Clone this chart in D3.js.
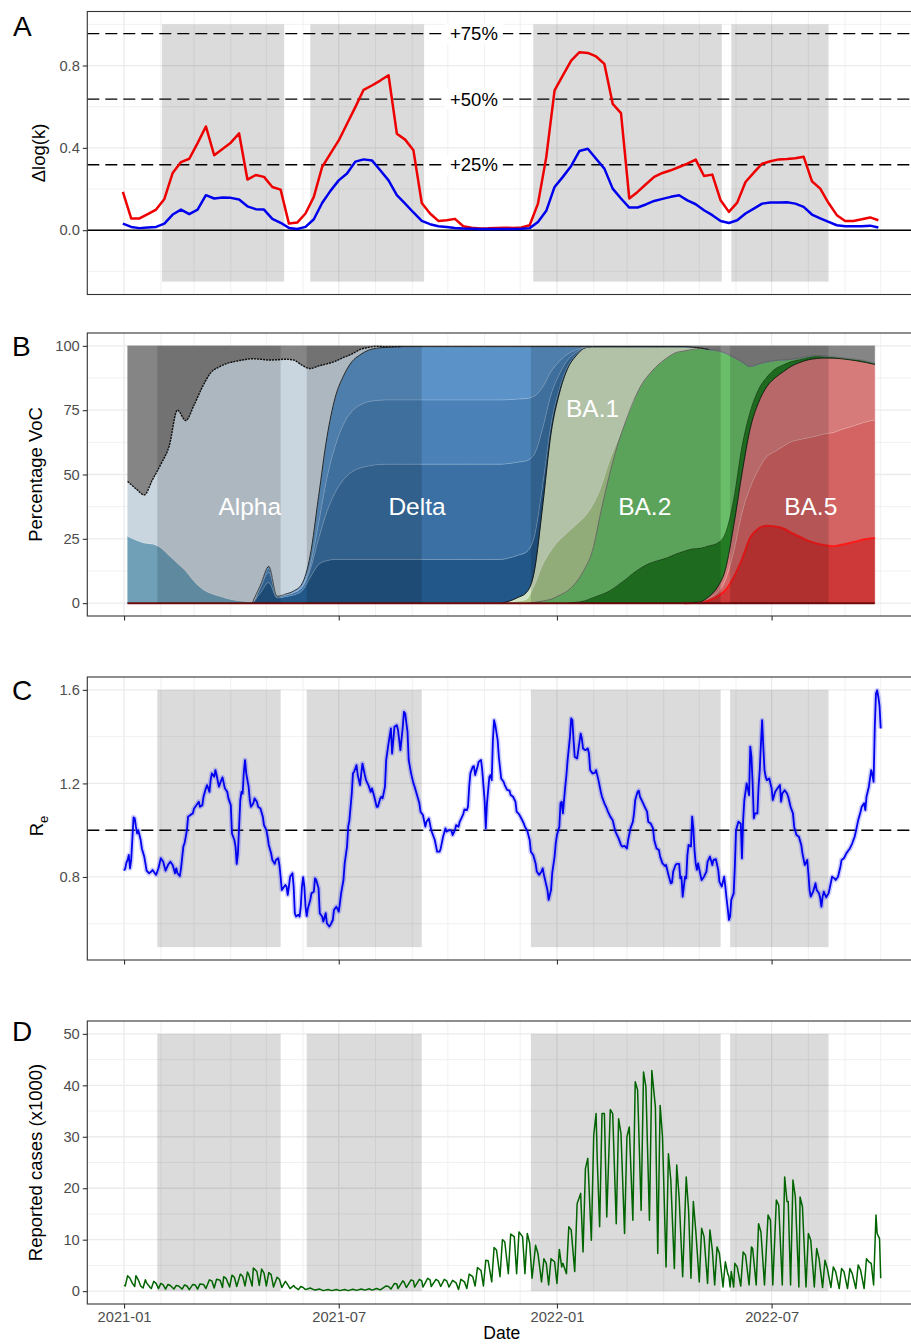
<!DOCTYPE html>
<html><head><meta charset="utf-8">
<script src="https://cdn.jsdelivr.net/npm/d3@7/dist/d3.min.js"></script>
<style>
html,body{margin:0;padding:0;background:#fff;}
svg{display:block;}
</style></head><body>
<svg id="chart" width="911" height="1344"></svg>
<script>
// ================= DATA =================
const monthTicks = ["2021-01-01","2021-07-01","2022-01-01","2022-07-01"];
const periodsA = [["2021-02-02","2021-05-16"],["2021-06-07","2021-09-11"],["2021-12-12","2022-05-20"],["2022-05-28","2022-08-18"]];
const periods  = [["2021-01-29","2021-05-13"],["2021-06-04","2021-09-09"],["2021-12-10","2022-05-19"],["2022-05-27","2022-08-18"]];

// Panel A: weekly Δlog(k)
const dlogStart = "2020-12-31";
const dlogRed = [0.186,0.057,0.057,0.078,0.100,0.152,0.278,0.331,0.347,0.423,
0.504,0.364,0.394,0.425,0.470,0.246,0.268,0.259,0.210,0.197,
0.032,0.037,0.081,0.162,0.307,0.372,0.436,0.517,0.598,0.682,
0.703,0.727,0.753,0.469,0.440,0.388,0.132,0.081,0.045,0.048,
0.055,0.019,0.012,0.008,0.009,0.011,0.012,0.011,0.013,0.024,
0.129,0.355,0.679,0.752,0.824,0.865,0.861,0.844,0.808,0.614,
0.569,0.154,0.186,0.223,0.259,0.278,0.291,0.307,0.323,0.343,
0.263,0.270,0.145,0.089,0.134,0.234,0.280,0.323,0.335,0.344,
0.346,0.349,0.357,0.238,0.202,0.132,0.073,0.045,0.045,0.053,
0.062,0.048];
const dlogBlue = [0.032,0.016,0.010,0.013,0.016,0.032,0.076,0.100,0.078,0.100,
0.170,0.154,0.159,0.157,0.149,0.116,0.102,0.100,0.055,0.036,
0.011,0.006,0.016,0.053,0.132,0.191,0.242,0.275,0.333,0.344,
0.339,0.291,0.242,0.170,0.129,0.086,0.045,0.029,0.019,0.015,
0.011,0.008,0.007,0.006,0.006,0.006,0.006,0.006,0.007,0.010,
0.040,0.094,0.210,0.259,0.312,0.385,0.396,0.347,0.299,0.202,
0.154,0.110,0.110,0.125,0.142,0.152,0.162,0.170,0.145,0.126,
0.097,0.073,0.045,0.035,0.048,0.081,0.105,0.129,0.134,0.134,
0.136,0.129,0.113,0.076,0.057,0.040,0.024,0.019,0.019,0.019,
0.022,0.013];
const refLevels = [0.318, 0.637, 0.955];
const refLabels = ["+25%", "+50%", "+75%"];
const refLabelDate = "2021-10-23";

// Panel B: weekly variant shares (%), each list starts at week index *From
const vocStart = "2021-01-04";
const vocWeeks = 91;
const othersShare = [52.7,55.5,57.9,52,46,39,25,29,23,16,10.5,8.2,6.8,6,5.4,5,5.2,5.5,5.4,5.2,5.5,7.5,8.8,7.8,7,6,4.5,3.2,1.4,0.6,0.2,
0.3,0.3,0.3,0.3,0.3,0.3,0.3,0.3,0.3,0.3,
0.3,0.3,0.3,0.3,0.3,0.3,0.3,0.3,0.3,0.3,
0.3,0.3,0.3,0.3,0.3,0.3,0.3,0.3,0.3,0.3,
0.3,0.3,0.3,0.3,0.3,0.3,0.3,
0.5,0.8,1.4,1.8,2.8,4.4,6.2,8,7,6.2,5.7,5.4,5.2,4.7,4,3.7,3.9,4.2,4.6,5,5.3,5.9,6.8];
const alphaFrom = 0;
const alphaShare = [21.3,20,18.7,25,32.5,42.5,59.5,58.5,68.5,78.5,85.7,89,91.4,92.9,93.9,94.5,87.4,79.9,91.7,91.3,89.8,85,72.6,50.8,28.7,14.1,7.2,3,2.1,1.1,0.7,0.3,0.15];
const alphaSubFrom = 0;
const alphaSubShare = [26,24.5,23.4,23,21.5,18.5,15.5,12.5,8.5,5.5,3.8,2.8,1.8,1.1,0.7,0.5,0.4,0.3,0.2];
const deltaFrom = 16;
const deltaBShare = [4,8,2,2.5,3.2,4.8,10,15,16.5,17,17,17,17,17,17,17,17,
17,17,17,17,17,17,17,17,17,17,17,17,17,
16.8,16.4,15.8,13.5,8,3.5,1.8,0.7,0.3,0.05];
const deltaLShare = [2,4,0.5,0.6,0.8,1.2,3,10,19,26,31,34,35.5,36.3,36.8,37,37,
37,37,37,37,37,37,37,37,37,37,37,37,37,
36.7,36.2,35.5,32,22,11.5,5.7,2.6,1,0.15];
const deltaMShare = [0.7,1.6,0.1,0.2,0.3,0.5,1.6,6,13,18,21.5,23.5,24.5,25,25,25,25,
25,25,25,25,25,25,25,25,25,25,25,25,25,
24.8,24.5,24.2,22.5,16,9,5,2.3,1,0.15];
const deltaTShare = [0.3,0.7,0.1,0.2,0.4,1.0,4.0,10.4,15.8,18.9,18.8,19.3,19.5,20,20.3,20.4,20.55,
20.7,20.7,20.7,20.7,20.7,20.7,20.7,20.7,20.7,20.7,20.7,20.7,20.7,
20.6,20.4,20.2,19.2,15.7,9.7,5.7,2.9,1.3,0.25];
const ba1From = 46;
const ba1Share = [0.5,1.4,2.5,5.5,23,45.5,57,63.7,65.6,65.6,61.7,54.7,44.7,36.7,28.4,20.7,14.3,10.1,6.8,4.3,2.4,1.7,0.9,0.2];
const ba1SubShare = [0.3,0.8,1.5,6.7,14.2,19,21.5,22.7,22.5,20.5,17.5,9.6,5.7,1.7,0.5];
const ba2From = 49;
const ba2Share = [0.3,0.8,1.5,3,4.8,7.7,12.2,18.5,32.2,44.7,54.5,61.6,67.2,71.4,74,76.3,77.8,78.3,77.9,77.6,77.7,76.4,75,70.2,55.6,33.2,17.7,10,6,3.3,2,0.9,0.7,0.6,0.5,0.5,0.3,0.2,0.2,0.3,0.3,0.2];
const ba2xFrom = 54;
const ba2xShare = [0.3,0.8,2,3.2,4.6,6.8,9.2,11.8,14,15.6,16.6,17.6,19,20.1,20.8,20.8,19.7,17.2,14,10,10.2,6.3,5,3.6,3.4,2.6,1.7,1,0.8,0.7,0.3,0.3,0.2,0.2,0.3,0.3,0.2];
const ba5From = 68;
const ba5LowShare = [0.05,0.2,1,2.5,5,10,17,25.5,29,30.1,29.8,29,27.2,25.7,24.2,23.2,22.5,22.1,22.7,23.4,24.2,24.9,25.3];
const ba5MidShare = [0.05,0.15,0.8,1.5,4,10,18,19.5,23,26.9,29.2,32,35.6,37.9,40.1,41.8,43.3,44.2,44.8,45.1,45.3,45.6,45.9];
const ba5TopShare = [0.1,0.15,0.7,2,4,10,15.4,23,26,27.2,28.6,29,29.4,30,30.3,30.1,29.5,28.9,27.5,26.1,24.6,23,21.6];
const vocLabels = [["Alpha","2021-04-17",37.5],["Delta","2021-09-05",37.5],["BA.1","2022-01-31",75.7],["BA.2","2022-03-16",37.5],["BA.5","2022-08-03",37.5]];

// Panel C: effective reproduction number, [days since 2021-01-01, Re]
const reStart = "2021-01-01";
const reSeries = [[0,.827],[1,.837],[2,.861],[3,.873],[4,.894],[5,.837],[6,.873],[8,1.055],[9,1.050],[10,1.015],[11,.986],[12,1.0],[14,.958],[15,.922],[17,.887],[18,.858],[19,.827],[21,.816],[23,.823],[24,.830],[26,.816],[27,.809],[29,.837],[31,.880],[33,.865],[35,.827],[37,.851],[39,.865],[41,.851],[43,.816],[44,.837],[45,.816],[47,.804],[48,.837],[50,.930],[51,.944],[53,1.0],[54,1.058],[56,1.065],[58,1.072],[59,1.093],[61,1.107],[63,1.122],[64,1.100],[66,1.107],[67,1.143],[69,1.179],[70,1.193],[72,1.164],[73,1.214],[74,1.243],[76,1.228],[77,1.257],[78,1.236],[80,1.186],[82,1.214],[83,1.226],[85,1.179],[87,1.164],[88,1.136],[90,1.107],[91,.986],[93,.958],[94,.930],[95,.856],[96,.901],[97,1.015],[98,1.129],[99,1.164],[100,1.157],[101,1.250],[102,1.300],[103,1.243],[105,1.186],[106,1.129],[107,1.100],[109,1.115],[110,1.136],[112,1.122],[113,1.100],[115,1.093],[117,1.058],[118,1.022],[120,1.0],[121,.972],[122,.937],[124,.901],[125,.873],[127,.856],[128,.873],[130,.880],[131,.851],[132,.801],[133,.744],[134,.752],[136,.766],[137,.759],[138,.723],[139,.759],[140,.801],[142,.816],[143,.759],[144,.645],[145,.631],[147,.638],[148,.631],[149,.673],[150,.759],[151,.799],[152,.759],[153,.673],[154,.633],[155,.666],[157,.702],[158,.730],[160,.737],[161,.794],[162,.787],[164,.752],[165,.645],[167,.631],[168,.609],[170,.645],[171,.602],[173,.588],[174,.595],[176,.616],[177,.659],[179,.673],[181,.652],[182,.688],[183,.730],[185,.787],[186,.858],[188,.930],[189,1.015],[190,1.043],[192,1.157],[193,1.243],[194,1.250],[196,1.278],[197,1.236],[199,1.193],[200,1.243],[201,1.285],[203,1.236],[204,1.214],[206,1.193],[208,1.164],[209,1.179],[211,1.143],[213,1.100],[214,1.100],[216,1.136],[217,1.143],[218,1.136],[220,1.186],[221,1.300],[223,1.371],[225,1.435],[226,1.328],[228,1.442],[230,1.449],[231,1.428],[233,1.342],[235,1.442],[236,1.506],[237,1.499],[239,1.420],[240,1.300],[242,1.243],[244,1.200],[245,1.186],[247,1.150],[249,1.115],[250,1.079],[252,1.065],[254,1.015],[255,1.036],[257,1.050],[259,1.0],[260,.986],[262,.958],[264,.908],[266,.908],[267,.922],[269,.972],[271,1.008],[272,.994],[274,1.0],[276,.998],[277,.979],[279,1.0],[280,1.022],[282,1.015],[283,1.036],[284,1.046],[286,1.069],[287,1.089],[289,1.086],[290,1.100],[291,1.186],[292,1.243],[294,1.271],[295,1.274],[296,1.236],[298,1.271],[299,1.292],[301,1.300],[302,1.257],[304,1.129],[305,1.008],[306,1.115],[308,1.228],[309,1.236],[310,1.214],[311,1.385],[312,1.470],[313,1.449],[315,1.385],[316,1.314],[318,1.221],[320,1.207],[321,1.193],[323,1.172],[325,1.169],[326,1.150],[328,1.143],[330,1.122],[331,1.079],[333,1.069],[335,1.050],[337,1.029],[338,1.015],[340,.998],[342,.958],[343,.908],[345,.894],[347,.858],[348,.823],[350,.809],[352,.823],[353,.837],[354,.809],[356,.766],[357,.744],[358,.702],[360,.744],[361,.816],[363,.887],[364,.944],[365,.979],[367,1.015],[368,1.115],[369,1.122],[370,1.072],[372,1.186],[373,1.236],[374,1.300],[376,1.400],[377,1.478],[378,1.470],[379,1.385],[380,1.314],[382,1.307],[383,1.342],[385,1.413],[386,1.392],[387,1.349],[389,1.342],[391,1.349],[392,1.328],[393,1.257],[395,1.243],[397,1.245],[398,1.257],[400,1.214],[402,1.164],[403,1.143],[405,1.115],[407,1.093],[408,1.079],[410,1.058],[412,1.043],[414,1.0],[415,.986],[417,.965],[419,.937],[420,.930],[422,.933],[424,.922],[425,.958],[427,1.008],[429,1.036],[430,1.072],[431,1.129],[433,1.164],[434,1.169],[435,1.143],[437,1.122],[439,1.100],[441,1.079],[442,1.036],[444,1.029],[446,1.008],[447,.958],[449,.922],[451,.915],[452,.887],[454,.858],[456,.847],[457,.851],[459,.809],[461,.773],[462,.776],[463,.823],[465,.851],[466,.856],[468,.856],[469,.794],[470,.801],[471,.716],[473,.801],[474,.794],[475,.894],[476,.937],[478,.930],[479,1.058],[480,1.008],[481,.915],[482,.858],[483,.830],[484,.858],[486,.809],[487,.787],[489,.801],[491,.823],[492,.865],[494,.887],[496,.851],[497,.873],[499,.876],[501,.830],[502,.780],[504,.759],[506,.801],[507,.759],[508,.709],[509,.666],[510,.616],[511,.631],[512,.702],[514,.730],[515,.844],[516,1.0],[518,1.036],[520,1.029],[521,.880],[522,1.043],[523,1.129],[525,1.200],[527,1.150],[528,1.357],[529,1.314],[530,1.200],[531,1.051],[532,1.072],[534,1.072],[535,1.186],[536,1.257],[537,1.371],[538,1.470],[539,1.357],[540,1.257],[541,1.228],[542,1.214],[544,1.221],[546,1.179],[547,1.129],[549,1.164],[551,1.179],[553,1.193],[554,1.122],[555,1.157],[557,1.171],[559,1.157],[560,1.143],[562,1.100],[564,1.072],[565,1.015],[567,.979],[569,.972],[571,.937],[572,.901],[574,.851],[576,.873],[577,.816],[578,.744],[579,.716],[581,.737],[583,.773],[584,.744],[586,.730],[587,.709],[588,.673],[589,.716],[590,.737],[592,.713],[594,.730],[595,.752],[597,.801],[599,.794],[600,.787],[602,.801],[604,.844],[605,.873],[607,.880],[609,.901],[611,.915],[612,.922],[614,.944],[616,.972],[617,.994],[619,1.043],[621,1.079],[622,1.100],[624,1.115],[625,1.086],[626,1.143],[628,1.186],[630,1.257],[631,1.236],[632,1.207],[633,1.442],[634,1.584],[635,1.598],[636,1.570],[637,1.530],[638,1.435]];

// Panel D: reported cases (x1000), [days since 2021-01-01, cases]
const casesStart = "2021-01-01";
const casesSeries = [[0,1.2],[1,1.0],[3,3.0],[5,2.5],[7,1.5],[9,0.9],[10,3.0],[12,2.2],[14,1.0],[16,0.6],[18,2.2],[19,1.6],[22,0.7],[23,0.5],[25,1.9],[27,1.5],[29,0.5],[31,1.5],[33,1.2],[35,0.4],[37,1.3],[39,1.1],[42,0.4],[44,1.1],[46,1.0],[49,0.4],[51,1.2],[53,1.0],[55,0.3],[58,1.3],[60,1.2],[62,0.4],[64,1.4],[67,1.3],[69,0.5],[72,2.2],[74,2.0],[76,0.6],[78,2.3],[81,2.1],[83,0.7],[84,2.8],[86,2.5],[89,0.8],[91,3.1],[93,2.7],[95,0.9],[98,3.3],[100,2.9],[102,1.0],[104,3.7],[105,3.3],[108,1.0],[109,4.5],[112,3.8],[114,1.1],[116,4.3],[118,3.5],[120,1.0],[122,3.6],[124,3.2],[126,0.8],[129,2.7],[131,2.3],[133,0.7],[136,1.9],[137,1.6],[140,0.5],[143,1.1],[144,0.8],[147,0.3],[149,0.9],[151,0.7],[153,0.3],[157,0.6],[158,0.5],[161,0.2],[165,0.4],[168,0.1],[172,0.3],[175,0.1],[179,0.3],[182,0.1],[186,0.3],[189,0.1],[193,0.35],[196,0.15],[200,0.4],[203,0.2],[207,0.45],[209,0.2],[213,0.5],[216,0.25],[221,1.0],[223,0.9],[225,0.4],[228,1.5],[230,1.4],[231,0.5],[235,2.0],[236,1.8],[238,0.7],[242,2.2],[244,2.0],[245,0.8],[249,2.3],[251,2.0],[252,0.8],[256,2.5],[258,2.2],[259,0.9],[263,2.3],[265,2.0],[267,0.9],[270,2.3],[272,2.0],[274,0.8],[277,2.1],[280,1.6],[282,0.3],[284,2.3],[287,1.8],[289,0.5],[291,3.3],[294,2.8],[296,1.0],[298,4.6],[301,4.0],[303,1.0],[305,6.0],[307,5.9],[310,1.8],[312,8.5],[314,8.0],[317,2.8],[319,10.0],[321,9.6],[324,3.4],[326,11.1],[329,10.6],[331,3.4],[333,11.5],[336,10.6],[338,3.4],[340,11.2],[342,9.3],[344,2.5],[347,8.9],[349,7.3],[352,1.8],[354,6.3],[356,5.4],[358,1.2],[360,6.3],[363,5.7],[365,1.5],[367,8.1],[369,4.7],[370,5.4],[373,3.4],[375,12.5],[377,11.9],[380,3.8],[382,17.0],[385,19.0],[387,7.6],[389,23.8],[391,25.8],[394,9.9],[396,30.3],[398,34.5],[399,25.5],[401,12.5],[403,34.5],[405,34.5],[407,14.4],[410,35.3],[412,34.5],[415,13.1],[417,33.5],[419,30.6],[422,11.2],[424,30.0],[426,31.9],[429,13.8],[431,40.7],[433,39.1],[436,15.7],[438,42.6],[440,39.7],[443,13.8],[445,42.9],[448,35.8],[450,7.3],[452,36.1],[454,30.0],[457,4.7],[459,26.7],[461,21.6],[464,4.4],[466,24.5],[468,18.3],[471,2.8],[474,22.2],[476,15.7],[478,2.5],[480,17.4],[482,11.9],[485,1.8],[487,12.2],[489,10.6],[492,1.5],[494,11.9],[496,8.0],[498,1.2],[500,8.6],[502,7.3],[505,0.8],[507,5.7],[509,3.4],[510,2.8],[511,0.8],[512,3.8],[514,0.8],[515,5.4],[517,4.7],[520,1.0],[522,7.6],[524,7.0],[527,1.2],[529,8.6],[530,8.3],[533,1.2],[535,13.1],[537,11.5],[540,1.2],[543,14.8],[545,13.8],[547,1.2],[550,17.7],[552,16.7],[555,1.2],[557,22.2],[559,17.4],[560,17.4],[562,1.2],[564,21.6],[566,18.3],[569,0.8],[570,18.3],[572,16.4],[575,0.8],[577,11.2],[579,9.9],[582,0.8],[584,8.3],[586,6.3],[589,0.7],[591,6.0],[593,4.4],[596,0.7],[598,4.7],[600,3.8],[603,0.5],[605,4.4],[607,3.8],[610,0.5],[612,4.4],[614,3.4],[617,0.5],[619,5.1],[621,4.1],[624,0.5],[626,6.3],[628,5.7],[630,5.4],[632,1.2],[634,14.8],[635,11.2],[637,10.2],[638,2.5]];

// ================= STYLE / LAYOUT =================
const FONT = '"Liberation Sans", Arial, Helvetica, sans-serif';
const L = 87.3, R = 916.3;
const layout = {A:[11.5,294.5], B:[333,616], C:[677,960], D:[1021,1304]};
const shadeOpacity = 0.14;
const variantColors = {ba5Low:"#cd3838", ba5Mid:"#d46464", ba5Top:"#d77a7a", ba2x:"#237c23", ba2:"#6abe69",
  ba1Sub:"#abc98d", ba1:"#cfe2c3", deltaB:"#225889", deltaL:"#3a70a3", deltaM:"#4a82b7", deltaT:"#5b93c9",
  alphaSub:"#6fa0b8", alpha:"#cad6df", others:"#858585"};

// ================= HELPERS =================
const parse = d3.utcParse("%Y-%m-%d");
const svg = d3.select("#chart").attr("font-family", FONT);
const defs = svg.append("defs");
const x = d3.scaleUtc().domain([parse("2020-12-01"), parse("2022-10-31")]).range([L, R]);
const majorDates = monthTicks.map(parse);
const allMonths = d3.utcMonth.range(parse("2020-12-01"), parse("2022-11-01"));
const minorMonths = allMonths.filter(m => !majorDates.some(d => +d === +m));

function makePanel(key, domain, yMajor, yMinor) {
  const [top, bottom] = layout[key];
  const y = d3.scaleLinear().domain(domain).range([bottom, top]);
  const g = svg.append("g");
  defs.append("clipPath").attr("id", "clip" + key).append("rect")
    .attr("x", L).attr("y", top).attr("width", R - L).attr("height", bottom - top);
  const grid = g.append("g");
  grid.selectAll(".vmin").data(minorMonths).join("line")
    .attr("x1", d => x(d)).attr("x2", d => x(d)).attr("y1", top).attr("y2", bottom)
    .attr("stroke", "#ebebeb").attr("stroke-width", 0.7);
  grid.selectAll(".hmin").data(yMinor).join("line")
    .attr("x1", L).attr("x2", R).attr("y1", d => y(d)).attr("y2", d => y(d))
    .attr("stroke", "#ebebeb").attr("stroke-width", 0.7);
  grid.selectAll(".vmaj").data(majorDates).join("line")
    .attr("x1", d => x(d)).attr("x2", d => x(d)).attr("y1", top).attr("y2", bottom)
    .attr("stroke", "#ebebeb").attr("stroke-width", 1.3);
  grid.selectAll(".hmaj").data(yMajor).join("line")
    .attr("x1", L).attr("x2", R).attr("y1", d => y(d)).attr("y2", d => y(d))
    .attr("stroke", "#ebebeb").attr("stroke-width", 1.3);
  const body = g.append("g").attr("clip-path", `url(#clip${key})`);
  return {key, y, g, body, top, bottom};
}

function finishPanel(p, yMajor, fmt, xMode) {
  p.g.append("rect").attr("x", L).attr("y", p.top).attr("width", R - L).attr("height", p.bottom - p.top)
    .attr("fill", "none").attr("stroke", "#333333").attr("stroke-width", 1.1);
  const yg = p.g.append("g").attr("transform", `translate(${L},0)`)
    .call(d3.axisLeft(p.y).tickValues(yMajor).tickSize(4.5).tickPadding(3).tickFormat(fmt));
  yg.attr("font-family", FONT).attr("font-size", 14.7);
  yg.select(".domain").remove();
  yg.selectAll(".tick line").attr("stroke", "#333333").attr("stroke-width", 1.1);
  yg.selectAll(".tick text").attr("fill", "#4d4d4d");
  if (xMode) {
    const xg = p.g.append("g").attr("transform", `translate(0,${p.bottom})`)
      .call(d3.axisBottom(x).tickValues(majorDates).tickSize(4.5).tickPadding(3.4)
        .tickFormat(xMode === "labels" ? d3.utcFormat("%Y-%m") : () => ""));
    xg.attr("font-family", FONT).attr("font-size", 14.7);
    xg.select(".domain").remove();
    xg.selectAll(".tick line").attr("stroke", "#333333").attr("stroke-width", 1.1);
    xg.selectAll(".tick text").attr("fill", "#4d4d4d");
  }
}

function shadeRects(p, list, y0, y1) {
  p.body.append("g").selectAll("rect").data(list).join("rect")
    .attr("x", d => x(parse(d[0]))).attr("width", d => x(parse(d[1])) - x(parse(d[0])))
    .attr("y", p.y(y1)).attr("height", p.y(y0) - p.y(y1))
    .attr("fill", "#000").attr("fill-opacity", shadeOpacity);
}

function yTitle(cx, cy, text) {
  svg.append("text").attr("transform", `translate(${cx},${cy}) rotate(-90)`)
    .attr("text-anchor", "middle").attr("font-size", 18.5).attr("fill", "#000").text(text);
}
function panelLetter(letter, px, py) {
  svg.append("text").attr("x", px).attr("y", py).attr("font-size", 28).attr("fill", "#000").text(letter);
}

// ================= PANEL A =================
{
  const p = makePanel("A", [-0.3125, 1.0625], [0, 0.4, 0.8], [-0.2, 0.2, 0.6, 1.0]);
  shadeRects(p, periodsA, -0.25, 1.0);
  p.body.append("line").attr("x1", L).attr("x2", R).attr("y1", p.y(0)).attr("y2", p.y(0))
    .attr("stroke", "#000").attr("stroke-width", 1.6);
  p.body.selectAll(".ref").data(refLevels).join("line")
    .attr("x1", L).attr("x2", R).attr("y1", d => p.y(d)).attr("y2", d => p.y(d))
    .attr("stroke", "#000").attr("stroke-width", 1.4).attr("stroke-dasharray", "12,6");
  refLevels.forEach((lv, i) => {
    const lg = p.body.append("g");
    const t = lg.append("text").attr("x", x(parse(refLabelDate))).attr("y", p.y(lv))
      .attr("dy", "0.36em").attr("text-anchor", "middle").attr("font-size", 18.5).attr("fill", "#000")
      .text(refLabels[i]);
    const bb = t.node().getBBox();
    lg.insert("rect", "text").attr("x", bb.x - 5).attr("y", p.y(lv) - 10).attr("width", bb.width + 10).attr("height", 20)
      .attr("fill", "#fff");
  });
  const ds = parse(dlogStart);
  const lineA = d3.line().x((d, i) => x(d3.utcDay.offset(ds, 7 * i))).y(d => p.y(d));
  p.body.append("path").attr("d", lineA(dlogRed)).attr("fill", "none").attr("stroke", "#ee0000")
    .attr("stroke-width", 2.5).attr("stroke-linejoin", "round");
  p.body.append("path").attr("d", lineA(dlogBlue)).attr("fill", "none").attr("stroke", "#0000ee")
    .attr("stroke-width", 2.5).attr("stroke-linejoin", "round");
  finishPanel(p, [0, 0.4, 0.8], d3.format(".1f"), null);
  yTitle(45, 153, "Δlog(k)");
  panelLetter("A", 13, 36);
}

// ================= PANEL B =================
{
  const p = makePanel("B", [-5, 105], [0, 25, 50, 75, 100], [12.5, 37.5, 62.5, 87.5]);
  const pad = (from, arr) => { const out = new Array(vocWeeks).fill(0); arr.forEach((v, i) => { out[from + i] = v; }); return out; };
  const shares = {
    ba5Low: pad(ba5From, ba5LowShare), ba5Mid: pad(ba5From, ba5MidShare), ba5Top: pad(ba5From, ba5TopShare),
    ba2x: pad(ba2xFrom, ba2xShare), ba2: pad(ba2From, ba2Share),
    ba1Sub: pad(ba1From, ba1SubShare), ba1: pad(ba1From, ba1Share),
    deltaB: pad(deltaFrom, deltaBShare), deltaL: pad(deltaFrom, deltaLShare),
    deltaM: pad(deltaFrom, deltaMShare), deltaT: pad(deltaFrom, deltaTShare),
    alphaSub: pad(alphaSubFrom, alphaSubShare), alpha: pad(alphaFrom, alphaShare),
    others: othersShare.slice()
  };
  const keys = Object.keys(variantColors);
  const vs = parse(vocStart);
  const rows = d3.range(vocWeeks).map(i => {
    const r = {date: d3.utcDay.offset(vs, 7 * i)};
    keys.forEach(k => { r[k] = shares[k][i]; });
    return r;
  });
  const series = d3.stack().keys(keys)(rows);
  const area = d3.area().x(d => x(d.data.date)).y0(d => p.y(d[0])).y1(d => p.y(d[1])).curve(d3.curveMonotoneX);
  p.body.append("g").selectAll("path").data(series).join("path")
    .attr("d", area).attr("fill", s => variantColors[s.key])
    .attr("stroke", s => variantColors[s.key]).attr("stroke-width", 0.4);

  const lineStyle = {
    ba5Low: ["#ff1a1a", 2.0], ba5Mid: ["rgba(255,255,255,0.35)", 0.7], ba5Top: ["#1a1a1a", 0.9],
    ba2x: ["#0b3d0b", 0.8], ba2: ["#6f6f6f", 0.9], ba1Sub: ["rgba(255,255,255,0.35)", 0.6], ba1: ["#111", 0.9],
    deltaB: ["rgba(255,255,255,0.35)", 0.7], deltaL: ["rgba(255,255,255,0.35)", 0.7],
    deltaM: ["rgba(255,255,255,0.35)", 0.7], deltaT: ["#1a1a1a", 0.9],
    alphaSub: ["rgba(255,255,255,0.35)", 0.7], alpha: ["#111", 1.4]
  };
  series.forEach(s => {
    if (!lineStyle[s.key]) return;
    const sh = shares[s.key];
    const active = i => sh[i] > 0 || (i > 0 && sh[i - 1] > 0) || (i < vocWeeks - 1 && sh[i + 1] > 0);
    const ln = d3.line().defined((d, i) => active(i)).x(d => x(d.data.date)).y(d => p.y(d[1])).curve(d3.curveMonotoneX);
    p.body.append("path").attr("d", ln(s)).attr("fill", "none")
      .attr("stroke", lineStyle[s.key][0]).attr("stroke-width", lineStyle[s.key][1])
      .attr("stroke-dasharray", s.key === "alpha" ? "2,1" : null);
  });
  p.body.append("line").attr("x1", x(rows[0].date)).attr("x2", x(rows[vocWeeks - 1].date))
    .attr("y1", p.y(0)).attr("y2", p.y(0)).attr("stroke", "#6e0b0b").attr("stroke-width", 2);
  shadeRects(p, periods, 0, 100);
  p.body.append("g").selectAll("text").data(vocLabels).join("text")
    .attr("x", d => x(parse(d[1]))).attr("y", d => p.y(d[2])).attr("dy", "0.35em")
    .attr("text-anchor", "middle").attr("font-size", 24.5).attr("fill", "#fff").text(d => d[0]);
  finishPanel(p, [0, 25, 50, 75, 100], d3.format("d"), "ticks");
  yTitle(41.5, 474.5, "Percentage VoC");
  panelLetter("B", 12, 356);
}

// ================= PANEL C =================
{
  const p = makePanel("C", [0.445, 1.655], [0.8, 1.2, 1.6], [0.6, 1.0, 1.4]);
  shadeRects(p, periods, 0.5, 1.6);
  p.body.append("line").attr("x1", L).attr("x2", R).attr("y1", p.y(1)).attr("y2", p.y(1))
    .attr("stroke", "#000").attr("stroke-width", 1.4).attr("stroke-dasharray", "12,6");
  const rs = parse(reStart);
  const lineC = d3.line().x(d => x(d3.utcDay.offset(rs, d[0]))).y(d => p.y(d[1]));
  p.body.append("path").attr("d", lineC(reSeries)).attr("fill", "none").attr("stroke", "#3b3bff")
    .attr("stroke-opacity", 0.25).attr("stroke-width", 5).attr("stroke-linejoin", "round");
  p.body.append("path").attr("d", lineC(reSeries)).attr("fill", "none").attr("stroke", "#0000ee")
    .attr("stroke-width", 1.8).attr("stroke-linejoin", "round");
  finishPanel(p, [0.8, 1.2, 1.6], d3.format(".1f"), "ticks");
  const t = svg.append("text").attr("transform", "translate(43.3,826) rotate(-90)")
    .attr("text-anchor", "middle").attr("font-size", 18.5).attr("fill", "#000");
  t.append("tspan").text("R");
  t.append("tspan").attr("dy", 5).attr("font-size", 13).text("e");
  panelLetter("C", 12, 700);
}

// ================= PANEL D =================
{
  const p = makePanel("D", [-2.5, 52.5], [0, 10, 20, 30, 40, 50], [5, 15, 25, 35, 45]);
  shadeRects(p, periods, 0, 50);
  const cs = parse(casesStart);
  const lineD = d3.line().x(d => x(d3.utcDay.offset(cs, d[0]))).y(d => p.y(d[1]));
  p.body.append("path").attr("d", lineD(casesSeries)).attr("fill", "none").attr("stroke", "#006400")
    .attr("stroke-width", 1.5).attr("stroke-linejoin", "round");
  finishPanel(p, [0, 10, 20, 30, 40, 50], d3.format("d"), "labels");
  yTitle(41.5, 1162.5, "Reported cases (x1000)");
  svg.append("text").attr("x", (L + R) / 2).attr("y", 1339).attr("text-anchor", "middle")
    .attr("font-size", 17.5).attr("fill", "#000").text("Date");
  panelLetter("D", 12, 1040.5);
}
</script>
</body></html>
